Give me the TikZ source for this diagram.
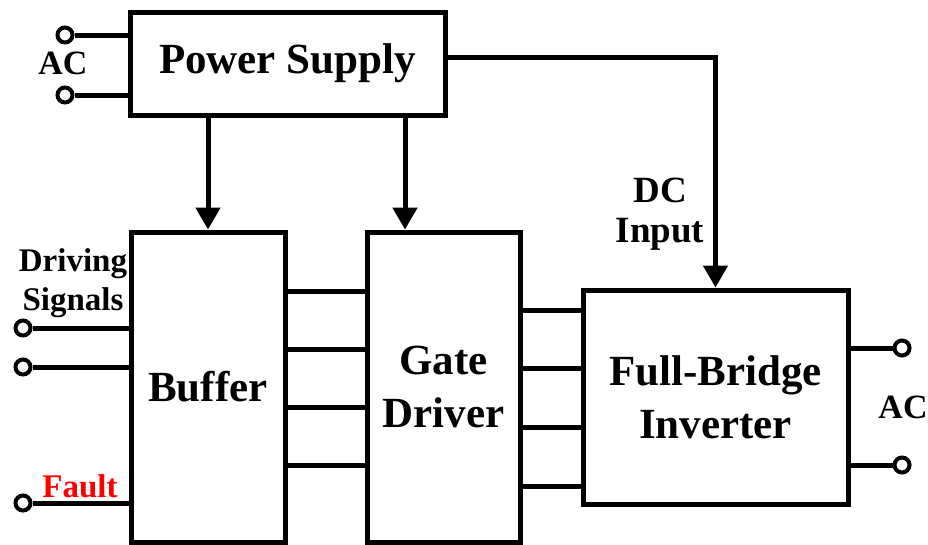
\documentclass[tikz,border=0pt]{standalone}
\usepackage{fontspec}
\setmainfont{Liberation Serif}
\usetikzlibrary{arrows.meta}
\begin{document}
\begin{tikzpicture}[x=1pt, y=-1pt, line width=5pt,
  blk/.style={draw,line width=5pt,minimum width=#1,inner sep=0pt,align=center,font=\fontsize{43}{53}\selectfont\bfseries},
  term/.style={draw,circle,line width=4pt,minimum size=15pt,inner sep=0pt},
  lbl/.style={align=center,inner sep=0pt,font=\fontsize{34}{39}\selectfont\bfseries},
  arr/.style={-{Triangle[width=24pt,length=22pt]}}]
\useasboundingbox (0,0) rectangle (928,544);
% blocks
\node[blk=315pt,minimum height=103pt] (ps) at (287.5,63.5) {Power Supply};
\node[blk=154pt,minimum height=310pt] (buf) at (208,387) {Buffer};
\node[blk=153pt,minimum height=310pt] (gd) at (443.5,387) {Gate\\Driver};
\node[blk=265pt,minimum height=214pt] (inv) at (715.5,397) {Full-Bridge\\Inverter};
% terminals
\node[term] (acA) at (65,35) {};
\node[term] (acB) at (65,95) {};
\node[term] (drvA) at (23,328) {};
\node[term] (drvB) at (23,367) {};
\node[term] (flt) at (23,503) {};
\node[term] (outA) at (902,348) {};
\node[term] (outB) at (902,465) {};
\draw (acA) -- (ps.west |- acA);
\draw (acB) -- (ps.west |- acB);
\draw (drvA) -- (buf.west |- drvA);
\draw (drvB) -- (buf.west |- drvB);
\draw (flt) -- (buf.west |- flt);
\draw (outA) -- (inv.east |- outA);
\draw (outB) -- (inv.east |- outB);
% supply arrows
\draw[arr] (ps.south -| buf.north) -- (buf.north);
\draw[arr] (ps.south -| 405,0) -- (gd.north -| 405,0);
\draw[arr] (ps.east |- 0,57) -| (inv.north);
% signal lines
\foreach \y in {291,349,407,465}
  \draw (buf.east |- 0,\y) -- (gd.west |- 0,\y);
\foreach \y in {310,368,427,486}
  \draw (gd.east |- 0,\y) -- (inv.west |- 0,\y);
% labels
\node[lbl] (acL) at (63,63) {AC};
\node[lbl,font=\fontsize{33}{39}\selectfont\bfseries] (drvL) at (73,283) {Driving\\Signals};
\node[lbl,font=\fontsize{33}{39}\selectfont\bfseries,text=red] (fltL) at (80,486) {Fault};
\node[lbl,font=\fontsize{37}{40}\selectfont\bfseries] (dcL) at (660,214) {DC\\Input};
\node[lbl] (acR) at (903,407) {AC};
\end{tikzpicture}
\end{document}
